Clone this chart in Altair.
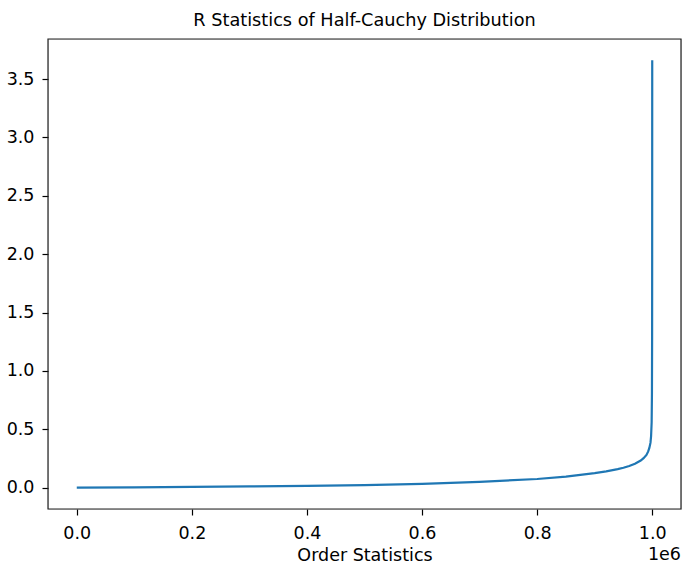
import altair as alt
import pandas as pd

# Order statistic index (0 .. 1e6) and the R statistic
order_index = [0, 100000, 200000, 300000, 400000, 500000, 600000, 700000,
               800000, 850000, 900000, 920000, 940000, 950000, 960000, 970000,
               980000, 985000, 990000, 993000, 995000, 997000, 998000, 999000,
               999500, 999800, 999900, 1000000]
r_values = [0.000, 0.003, 0.006, 0.010, 0.015, 0.022, 0.033, 0.049,
            0.074, 0.095, 0.125, 0.140, 0.158, 0.170, 0.186, 0.205,
            0.232, 0.252, 0.280, 0.310, 0.340, 0.385, 0.440, 0.560,
            0.800, 1.300, 2.000, 3.660]

x_ticks = [0, 200000, 400000, 600000, 800000, 1000000]
y_ticks = [0.0, 0.5, 1.0, 1.5, 2.0, 2.5, 3.0, 3.5]
offset_label = ["1e6"]

title_text = "R Statistics of Half-Cauchy Distribution"
x_title = "Order Statistics"

df = pd.DataFrame({"order": order_index, "r": r_values})
off_df = pd.DataFrame({"t": offset_label})

FONT = "DejaVu Sans"
FS = 17.5
W, H = 633, 470

line = alt.Chart(df).mark_line(color="#1f77b4", strokeWidth=2.2, clip=True).encode(
    x=alt.X(
        "order:Q",
        scale=alt.Scale(domain=[-50000, 1050000], nice=False, zero=False),
        axis=alt.Axis(
            values=x_ticks,
            labelExpr="format(datum.value / 1000000, '.1f')",
            title=x_title,
            titleY=51,
            titleBaseline="alphabetic",
            titleFont=FONT,
            titleFontSize=FS,
            titleFontWeight="normal",
            titleColor="#000",
            labelFont=FONT,
            labelFontSize=FS,
            labelColor="#000",
            labelPadding=9,
            tickSize=6,
            tickColor="#000",
            tickWidth=1.2,
            domain=False,
            grid=False,
            labelFlush=False,
        ),
    ),
    y=alt.Y(
        "r:Q",
        scale=alt.Scale(domain=[-0.183, 3.843], nice=False, zero=False),
        axis=alt.Axis(
            values=y_ticks,
            format=".1f",
            title=None,
            labelFont=FONT,
            labelFontSize=FS,
            labelColor="#000",
            labelPadding=8,
            tickSize=6,
            tickColor="#000",
            tickWidth=1.2,
            domain=False,
            grid=False,
            labelFlush=False,
        ),
    ),
)

frame = alt.Chart(off_df).mark_rect(
    fill=None, fillOpacity=0, stroke="#222", strokeWidth=1.2
).encode(
    x=alt.value(0),
    x2=alt.value(W),
    y=alt.value(0),
    y2=alt.value(H),
)

offset_text = alt.Chart(off_df).mark_text(
    align="right", baseline="alphabetic", font=FONT, fontSize=FS, color="#000"
).encode(
    x=alt.value(W),
    y=alt.value(H + 51),
    text="t:N",
)

chart = (
    alt.layer(line, frame, offset_text)
    .properties(
        width=W,
        height=H,
        title=alt.TitleParams(
            text=title_text,
            font=FONT,
            fontSize=17.7,
            fontWeight="normal",
            color="#000",
            anchor="middle",
            baseline="alphabetic",
            offset=14,
            dy=19,
        ),
        autosize=alt.AutoSizeParams(type="none"),
        padding={"left": 48, "top": 39, "right": 3, "bottom": 55},
    )
    .configure_view(stroke=None)
    .configure(background="white")
)

chart.save("out.html", embed_options={"renderer": "svg", "actions": False})
